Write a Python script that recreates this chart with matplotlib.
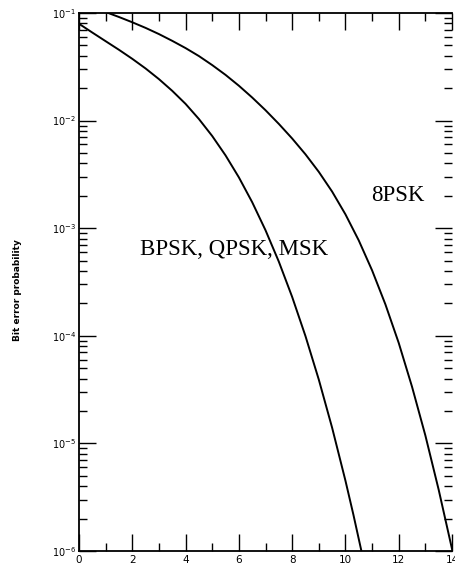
import matplotlib
matplotlib.use("Agg")
import matplotlib.pyplot as plt
from matplotlib.ticker import MultipleLocator, LogLocator, NullFormatter

# Data (Eb/N0 in dB, bit error probability)
bpsk_x = [0.0, 0.5, 1.0, 1.5, 2.0, 2.5, 3.0, 3.5, 4.0, 4.5, 5.0, 5.5, 6.0, 6.5,
          7.0, 7.5, 8.0, 8.5, 9.0, 9.5, 10.0, 10.3, 10.6, 10.65]
bpsk_y = [7.94e-2, 6.58e-2, 5.47e-2, 4.55e-2, 3.75e-2, 3.05e-2, 2.43e-2, 1.89e-2, 1.43e-2, 1.035e-2,
          7.19e-3, 4.75e-3, 2.97e-3, 1.745e-3, 9.58e-4, 4.89e-4, 2.30e-4, 9.94e-5, 3.92e-5, 1.40e-5,
          4.51e-6, 2.17e-6, 1.0e-6, 8.75e-7]

psk8_x = [1.0, 1.5, 2.0, 2.5, 3.0, 3.5, 4.0, 4.5, 5.0, 5.5, 6.0, 6.5, 7.0, 7.5, 8.0, 8.5,
          9.0, 9.5, 10.0, 10.5, 11.0, 11.5, 12.0, 12.5, 13.0, 13.5, 14.0, 14.05]
psk8_y = [1.021e-1, 9.18e-2, 8.20e-2, 7.27e-2, 6.37e-2, 5.51e-2, 4.72e-2, 3.98e-2, 3.28e-2, 2.66e-2,
          2.11e-2, 1.639e-2, 1.249e-2, 9.32e-3, 6.82e-3, 4.86e-3, 3.34e-3, 2.19e-3, 1.346e-3, 7.70e-4,
          4.06e-4, 1.96e-4, 8.59e-5, 3.36e-5, 1.186e-5, 3.71e-6, 1.045e-6, 9.1e-7]

labels = ["BPSK, QPSK, MSK", "8PSK"]
x_ticks = [0, 2, 4, 6, 8, 10, 12, 14]

fig = plt.figure(figsize=(4.56, 5.68), dpi=100)
ax = fig.add_axes([79/456, 17/568, 373/456, 538/568])

ax.plot(bpsk_x, bpsk_y, color="black", lw=1.4, solid_joinstyle="round")
ax.plot(psk8_x, psk8_y, color="black", lw=1.4, solid_joinstyle="round")

ax.set_yscale("log")
ax.set_xlim(0, 14)
ax.set_ylim(1e-6, 1e-1)
ax.set_xticks(x_ticks)
ax.xaxis.set_minor_locator(MultipleLocator(1))
ax.yaxis.set_major_locator(LogLocator(base=10, numticks=10))
ax.yaxis.set_minor_locator(LogLocator(base=10, subs=range(2, 10), numticks=20))
ax.yaxis.set_minor_formatter(NullFormatter())

ax.tick_params(which="both", direction="in", top=True, right=True, width=1.0, colors="black")
ax.tick_params(which="major", length=12, labelsize=7.5, pad=3)
ax.tick_params(which="minor", length=6)
ax.tick_params(axis="y", which="major", labelsize=7, pad=2)

for side in ["left", "bottom", "top"]:
    ax.spines[side].set_linewidth(1.3)
ax.spines["right"].set_visible(False)

ax.text(2.29, 5.6e-4, labels[0], family="Liberation Serif", fontsize=16.5, va="baseline", ha="left")
ax.text(10.98, 1.8e-3, labels[1], family="Liberation Serif", fontsize=16.5, va="baseline", ha="left")

fig.text(18/456, 1 - 290/568, "Bit error probability", rotation=90, fontsize=6.5,
         ha="center", va="center", fontweight="bold")

fig.savefig("out.png", dpi=100)
